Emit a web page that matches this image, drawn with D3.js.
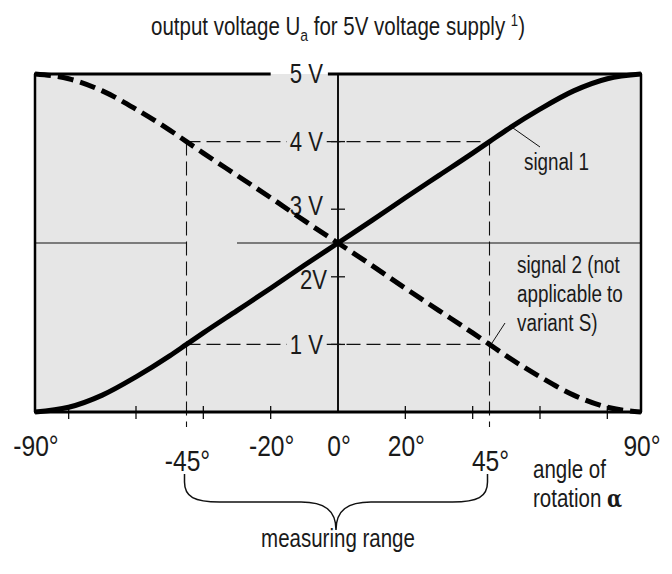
<!DOCTYPE html>
<html><head><meta charset="utf-8">
<script src="https://cdn.jsdelivr.net/npm/d3@7"></script>
<style>
body{margin:0;background:#fff;}
svg text{font-family:"Liberation Sans",Arial,sans-serif;fill:#1a1a1a;}
</style></head>
<body><svg id="c" width="672" height="574"></svg>
<script>
// ---- data ----
const angles  = [-90,-80,-70,-60,-50,-45,-40,-30,-20,-10,0,10,20,30,40,45,50,60,70,80,90];
const signal1 = [0,0.07,0.25,0.52,0.83,1.0,1.17,1.5,1.83,2.17,2.5,2.83,3.17,3.5,3.83,4.0,4.17,4.48,4.75,4.93,5.0];
const signal2 = [5.0,4.93,4.75,4.48,4.17,4.0,3.83,3.5,3.17,2.83,2.5,2.17,1.83,1.5,1.17,1.0,0.83,0.52,0.25,0.07,0];
const xTickValues = [-80,-60,-40,-20,20,40,60,80];
const xLabelValues = [-90,-20,0,20,90];
const xLabelTexts  = ["-90°","-20°","0°","20°","90°"];
const rangeValues = [-45,45];
const rangeTexts  = ["-45°","45°"];
const yTickValues = [1,2,3,4];
const yLabelValues = [1,2,3,4,5];
const yLabelTexts  = ["1 V","2V","3 V","4 V","5 V"];
const guideLevels = [1,4];
const midLevel = 2.5;

const SX = 0.82; // condensed look
const svg = d3.select("#c");
const x = d3.scaleLinear().domain([-90,90]).range([35,641]);
const y = d3.scaleLinear().domain([0,5]).range([412,74]);

function txt(parent, px, py, size, anchor){
  const g = parent.append("g").attr("transform",`translate(${px},${py}) scale(${SX},1)`);
  return g.append("text").attr("x",0).attr("y",0).attr("text-anchor",anchor||"start").attr("font-size",size);
}

// plot background
svg.append("rect").attr("x",x(-90)).attr("y",y(5)).attr("width",x(90)-x(-90)).attr("height",y(0)-y(5)).attr("fill","#e6e6e6");

// mid line (2.5 V) with gap
svg.append("line").attr("x1",x(-90)).attr("x2",x(-45)).attr("y1",y(midLevel)).attr("y2",y(midLevel)).attr("stroke","#111").attr("stroke-width",1.2);
svg.append("line").attr("x1",x(-30)).attr("x2",x(90)).attr("y1",y(midLevel)).attr("y2",y(midLevel)).attr("stroke","#111").attr("stroke-width",1.2);

// dashed guides
guideLevels.forEach(v=>{
  svg.append("line").attr("x1",x(-45)).attr("x2",x(45)).attr("y1",y(v)).attr("y2",y(v))
    .attr("stroke","#111").attr("stroke-width",1.1).attr("stroke-dasharray","14,6");
});
rangeValues.forEach(v=>{
  svg.append("line").attr("x1",x(v)).attr("x2",x(v)).attr("y1",y(4)).attr("y2",y(0)+15)
    .attr("stroke","#111").attr("stroke-width",1.1).attr("stroke-dasharray","14,6");
});

// centre axis
svg.append("line").attr("x1",x(0)).attr("x2",x(0)).attr("y1",y(5)).attr("y2",y(0)).attr("stroke","#111").attr("stroke-width",2);
// y ticks
yTickValues.forEach(v=>{
  svg.append("line").attr("x1",x(0)-7).attr("x2",x(0)+7).attr("y1",y(v)).attr("y2",y(v)).attr("stroke","#111").attr("stroke-width",1.3);
});
// x ticks
xTickValues.forEach(v=>{
  svg.append("line").attr("x1",x(v)).attr("x2",x(v)).attr("y1",y(0)-6).attr("y2",y(0)+7).attr("stroke","#111").attr("stroke-width",1.3);
});

// y labels (with background where they sit on dashed lines)
const ylab = svg.append("g");
yLabelValues.forEach((v,i)=>{
  const px = v===2 ? x(0)-11 : x(0)-15;
  const py = y(v) + (v===3?-4:(v===2?3:0));
  const t = txt(ylab, px, py, 27, "end").attr("dy","0.35em").attr("fill","#333").text(yLabelTexts[i]);
  if(v===4||v===1){
    const r = t.node().getBoundingClientRect();
    ylab.insert("rect",":first-child").attr("x",r.x-3).attr("y",r.y+4).attr("width",r.width+6).attr("height",r.height-8).attr("fill","#e6e6e6");
  }
});

// curves
const line = d3.line().curve(d3.curveMonotoneX);
svg.append("path").attr("d",line(angles.map((a,i)=>[x(a),y(signal1[i])])))
  .attr("fill","none").attr("stroke","#000").attr("stroke-width",5);
svg.append("path").attr("d",line(angles.map((a,i)=>[x(a),y(signal2[i])])))
  .attr("fill","none").attr("stroke","#000").attr("stroke-width",5).attr("stroke-dasharray","16,7");

// border
const bw = 2.5;
svg.append("line").attr("x1",x(-90)).attr("x2",x(-90)).attr("y1",y(5)).attr("y2",y(0)).attr("stroke","#000").attr("stroke-width",bw);
svg.append("line").attr("x1",x(90)).attr("x2",x(90)).attr("y1",y(5)).attr("y2",y(0)).attr("stroke","#000").attr("stroke-width",bw);
svg.append("line").attr("x1",x(-90)-1).attr("x2",x(90)+1).attr("y1",y(0)).attr("y2",y(0)).attr("stroke","#000").attr("stroke-width",3);
svg.append("line").attr("x1",x(-90)-1).attr("x2",x(-20)).attr("y1",y(5)).attr("y2",y(5)).attr("stroke","#000").attr("stroke-width",3);
svg.append("line").attr("x1",x(-3)).attr("x2",x(90)+1).attr("y1",y(5)).attr("y2",y(5)).attr("stroke","#000").attr("stroke-width",3);

// x labels
xLabelValues.forEach((v,i)=>{
  txt(svg, x(v)+1, 456, 30, "middle").text(xLabelTexts[i]);
});
rangeValues.forEach((v,i)=>{
  txt(svg, x(v)+1, 471, 30, "middle").text(rangeTexts[i]);
});

// title
const title = txt(svg, 338, 35, 25, "middle");
title.append("tspan").text("output voltage U");
title.append("tspan").attr("font-size",17).attr("dy",6).text("a");
title.append("tspan").attr("dy",-6).text(" for 5V voltage supply ");
title.append("tspan").attr("font-size",16).attr("dy",-9).text("1");
title.append("tspan").attr("dy",9).text(")");

// annotations
svg.append("line").attr("x1",513).attr("y1",128).attr("x2",540).attr("y2",147).attr("stroke","#111").attr("stroke-width",1);
txt(svg, 524, 170, 23).text("signal 1");
svg.append("line").attr("x1",492).attr("y1",343).attr("x2",505).attr("y2",323).attr("stroke","#111").attr("stroke-width",1);
const s2 = txt(svg, 517, 273, 23);
["signal 2 (not","applicable to","variant S)"].forEach((t,i)=>{
  s2.append("tspan").attr("x",0).attr("y",i*29).text(t);
});
const ar = txt(svg, 533, 478, 25);
ar.append("tspan").attr("x",0).attr("y",0).text("angle of");
ar.append("tspan").attr("x",0).attr("y",29).text("rotation ");
ar.append("tspan").attr("font-family","DejaVu Serif").attr("font-weight","bold").attr("font-size",24).text("α");

// brace
const bx0 = x(-45)-2, bx1 = x(45)-2, bc = (bx0+bx1)/2;
svg.append("path").attr("d",
  `M${bx0},474 L${bx0},482 C${bx0},497 ${bx0+10},502 ${bx0+35},502 L${bc-35},502 C${bc-12},502 ${bc},510 ${bc},530 ` +
  `C${bc},510 ${bc+12},502 ${bc+35},502 L${bx1-35},502 C${bx1-10},502 ${bx1},497 ${bx1},482 L${bx1},474`)
  .attr("fill","none").attr("stroke","#111").attr("stroke-width",1.5);
txt(svg, bc+2, 547, 25, "middle").text("measuring range");
</script></body></html>
